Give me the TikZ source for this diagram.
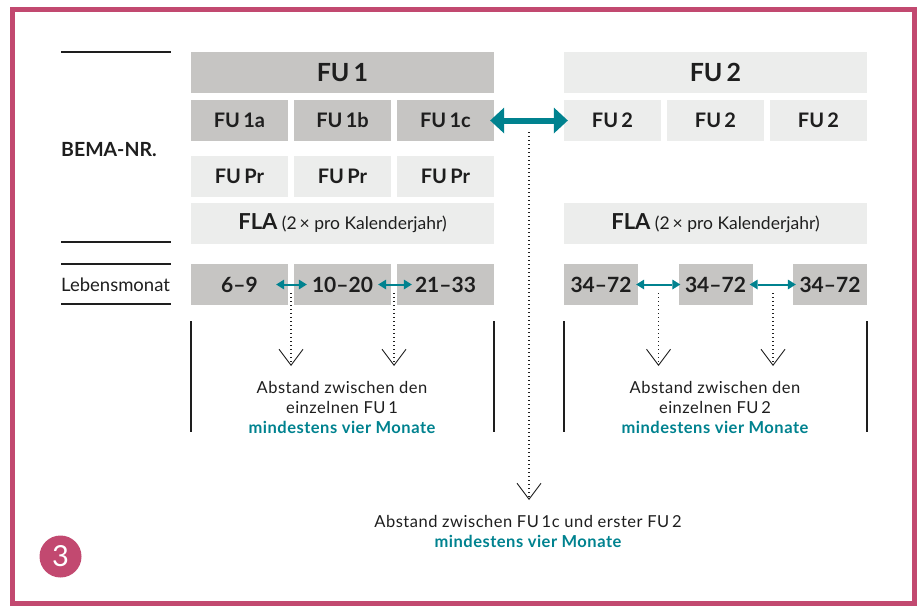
\documentclass[tikz,border=0pt]{standalone}
\usepackage{fontspec}
\setmainfont{Lato}
\newfontfamily\notefont{Lato}[LetterSpace=3]
\usetikzlibrary{arrows.meta}
\definecolor{boxgrey}{RGB}{198,197,195}
\definecolor{boxlight}{RGB}{236,237,236}
\definecolor{gapteal}{RGB}{0,130,143}
\definecolor{framepink}{RGB}{194,73,112}
\definecolor{inkgrey}{RGB}{30,30,30}
\tikzset{%
  >={Triangle[width=10pt,length=8pt,line width=0pt]},
  % Specifications for style of nodes:
          base/.style = {rectangle, inner sep=0pt, text=inkgrey,
                         minimum width=97pt, minimum height=41pt,
                         text centered, font=\bfseries\fontsize{20}{24}\selectfont},
       darkbox/.style = {base, fill=boxgrey},
      lightbox/.style = {base, fill=boxlight},
       headbox/.style = {minimum width=303pt, font=\bfseries\fontsize{25}{30}\selectfont},
      monthbox/.style = {darkbox, font=\bfseries\fontsize{21}{25}\selectfont},
      rowlabel/.style = {anchor=west, inner sep=0pt, text=inkgrey},
          note/.style = {align=center, inner sep=0pt, text=inkgrey,
                         font=\notefont\fontsize{16.5}{20}\selectfont},
  % Specifications for style of lines:
      bigarrow/.style = {gapteal, line width=6pt,
                         {Triangle[width=26pt,length=14pt,line width=0pt]}-{Triangle[width=26pt,length=14pt,line width=0pt]}},
    smallarrow/.style = {gapteal, line width=2pt, <->},
       gapline/.style = {inkgrey, line width=1.1pt, dash pattern=on 1.1pt off 2.9pt,
                         -{Straight Barb[width=24pt,length=16pt,line width=0.9pt]}},
        ruling/.style = {inkgrey, line width=1.2pt}
}
\newcommand{\mindest}{\textcolor{gapteal}{\bfseries mindestens vier Monate}}

\begin{document}
\begin{tikzpicture}[x=1pt, y=-1pt, every node/.style={node distance=103pt}]
  \useasboundingbox (0,0) rectangle (923,605);
  \draw[framepink, line width=5pt] (12.5,9.5) rectangle (914,603);

  % row labels
  \foreach \y in {52,242,264,304} \draw[ruling] (61,\y) -- (171,\y);
  \node (bema)  [rowlabel, font=\bfseries\fontsize{19.5}{22}\selectfont] at (61,150) {BEMA-NR.};
  \node (leben) [rowlabel, font=\fontsize{18.5}{21}\selectfont] at (61,285) {Lebensmonat};

  % FU 1 column
  \node (fuone)  [darkbox, headbox]       at (342.5,72.5)  {FU\,1};
  \node (fua)    [darkbox]                at (239.5,120.5) {FU\,1a};
  \node (fub)    [darkbox, right of=fua]                   {FU\,1b};
  \node (fuc)    [darkbox, right of=fub]                   {FU\,1c};
  \node (pra)    [lightbox]               at (239.5,176.5) {FU\,Pr};
  \node (prb)    [lightbox, right of=pra]                  {FU\,Pr};
  \node (prc)    [lightbox, right of=prb]                  {FU\,Pr};
  \node (flaone) [lightbox, headbox, font=\fontsize{17.5}{20}\selectfont] at (342.5,223.5)
        {{\bfseries\fontsize{22}{25}\selectfont FLA} (2\,× pro Kalenderjahr)};
  \node (mona)   [monthbox]               at (239.5,284.5) {6–9};
  \node (monb)   [monthbox, right of=mona]                 {10–20};
  \node (monc)   [monthbox, right of=monb]                 {21–33};

  % FU 2 column
  \node (futwo)  [lightbox, headbox]      at (715.5,72.5)  {FU\,2};
  \node (futwoa) [lightbox]               at (612.5,120.5) {FU\,2};
  \node (futwob) [lightbox, right of=futwoa]               {FU\,2};
  \node (futwoc) [lightbox, right of=futwob]               {FU\,2};
  \node (flatwo) [lightbox, headbox, font=\fontsize{17.5}{20}\selectfont] at (715.5,223.5)
        {{\bfseries\fontsize{22}{25}\selectfont FLA} (2\,× pro Kalenderjahr)};
  \node (mond)   [monthbox, minimum width=74pt] at (601,284.5) {34–72};
  \node (mone)   [monthbox, minimum width=74pt, right of=mond, node distance=114.5pt] {34–72};
  \node (monf)   [monthbox, minimum width=74pt, right of=mone, node distance=114.5pt] {34–72};

  % gaps
  \coordinate (gapab) at (291,293);   \coordinate (tipab) at (291,366);
  \coordinate (gapbc) at (394,293);   \coordinate (tipbc) at (394,366);
  \coordinate (gapde) at (658.5,293); \coordinate (tipde) at (658.5,366);
  \coordinate (gapef) at (773,293);   \coordinate (tipef) at (773,366);
  \coordinate (gapfu) at (529,132);   \coordinate (tipfu) at (529,500);

  \draw[bigarrow, shorten <=-4pt, shorten >=-4pt] (fuc) -- (futwoa);
  \draw[smallarrow, shorten <=-12pt, shorten >=-13pt] (mona) -- (monb);
  \draw[smallarrow, shorten <=-13pt, shorten >=-15pt] (monb) -- (monc);
  \draw[smallarrow, shorten <=-2pt, shorten >=-2pt]   (mond) -- (mone);
  \draw[smallarrow, shorten <=-3pt, shorten >=-3pt]   (mone) -- (monf);
  \draw[gapline] (gapab) -- (tipab);
  \draw[gapline] (gapbc) -- (tipbc);
  \draw[gapline] (gapde) -- (tipde);
  \draw[gapline] (gapef) -- (tipef);
  \draw[gapline] (gapfu) -- (tipfu);

  \foreach \x in {191,494,564,867} \draw[ruling] (\x,321) -- (\x,432);
  \node (noteone) [note] at (342,407) {Abstand zwischen den\\einzelnen FU\,1\\\mindest};
  \node (notetwo) [note] at (715,407) {Abstand zwischen den\\einzelnen FU\,2\\\mindest};
  \node (notefu)  [note] at (528,531) {Abstand zwischen FU\,1c und erster FU\,2\\\mindest};

  \node (num) [circle, fill=framepink, minimum size=42pt, inner sep=0pt, text=white,
               font=\fontsize{29}{30}\selectfont] at (60.5,556.5) {3};
\end{tikzpicture}
\end{document}
